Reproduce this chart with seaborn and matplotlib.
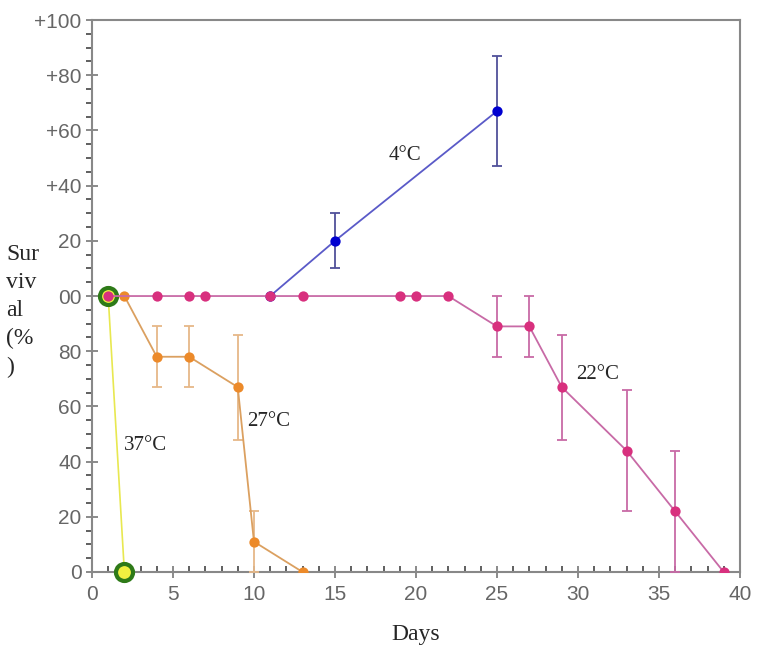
import numpy as np
import pandas as pd
import matplotlib
matplotlib.use("Agg")
import matplotlib.pyplot as plt
from matplotlib.ticker import MultipleLocator
import seaborn as sns

# survival data
days_4 = [11, 15, 25]
surv_4 = [100, 120, 167]
err_4 = [0, 10, 20]

days_22 = [1, 4, 6, 7, 11, 13, 19, 20, 22, 25, 27, 29, 33, 36, 39]
surv_22 = [100, 100, 100, 100, 100, 100, 100, 100, 100, 89, 89, 67, 44, 22, 0]
err_22 = [0, 0, 0, 0, 0, 0, 0, 0, 0, 11, 11, 19, 22, 22, 0]

days_27 = [1, 2, 4, 6, 9, 10, 13]
surv_27 = [100, 100, 78, 78, 67, 11, 0]
err_27 = [0, 0, 11, 11, 19, 11, 0]

days_37 = [1, 2]
surv_37 = [100, 0]

ytick_vals = [0, 20, 40, 60, 80, 100, 120, 140, 160, 180, 200]
ytick_labels = ["0", "20", "40", "60", "80", "00", "20", "+40", "+60", "+80", "+100"]
xtick_vals = [0, 5, 10, 15, 20, 25, 30, 35, 40]

sns.set_style("white")
plt.rcParams["font.family"] = ["Liberation Sans", "DejaVu Sans"]

fig, ax = plt.subplots(figsize=(7.62, 6.48), dpi=100)
fig.subplots_adjust(left=0.1207, right=0.971, bottom=0.1173, top=0.969)

def draw(days, surv, err, line_c, mark_c, bar_c, z):
    df = pd.DataFrame({"day": days, "surv": surv})
    if err is not None:
        e = np.array(err, dtype=float)
        lo = np.minimum(e, np.array(surv, dtype=float))
        mask = e > 0
        ax.errorbar(np.array(days)[mask], np.array(surv)[mask],
                    yerr=[lo[mask], e[mask]], fmt="none", ecolor=bar_c,
                    elinewidth=1.3, capsize=3.5, capthick=1.3, zorder=z)
    sns.lineplot(data=df, x="day", y="surv", ax=ax, color=line_c,
                 linewidth=1.3, zorder=z + 0.1, legend=False)
    ax.scatter(days, surv, s=55, color=mark_c, zorder=z + 0.2, linewidths=0)

draw(days_4, surv_4, err_4, "#5a5ac8", "#0000d0", "#50509a", 3)
draw(days_27, surv_27, err_27, "#dba060", "#ec8a2a", "#e6b888", 4)

# 37C: yellow line, green-ringed markers
df37 = pd.DataFrame({"day": days_37, "surv": surv_37})
sns.lineplot(data=df37, x="day", y="surv", ax=ax, color="#e8e850",
             linewidth=1.2, zorder=5, legend=False)
ax.scatter(days_37, surv_37, s=150, color="#f0f040", edgecolors="#2e7a18",
           linewidths=3, zorder=5.2, clip_on=False)

draw(days_22, surv_22, err_22, "#c86aa6", "#d8307e", "#c86aa6", 6)

ax.set_xlim(0, 40)
ax.set_ylim(0, 200)
ax.set_xticks(xtick_vals)
ax.set_yticks(ytick_vals)
ax.set_yticklabels(ytick_labels)
ax.xaxis.set_minor_locator(MultipleLocator(1))
ax.yaxis.set_minor_locator(MultipleLocator(5))
ax.tick_params(axis="both", which="both", bottom=True, left=True,
               top=False, right=False)
ax.tick_params(axis="both", which="major", direction="inout", length=9,
               width=1.2, color="#777777", labelcolor="#666666", labelsize=15,
               pad=3)
ax.tick_params(axis="x", which="major", pad=5)
ax.tick_params(axis="x", which="minor", direction="in", length=4,
               width=1.2, color="#444444")
ax.tick_params(axis="y", which="minor", direction="out", length=4,
               width=1.2, color="#444444")
for s in ax.spines.values():
    s.set_color("#888888")
    s.set_linewidth(1.5)

ax.set_xlabel("Days", family="Liberation Serif", fontsize=17, labelpad=14)
ax.set_ylabel("")
fig.text(0.008, 0.624, "Sur\nviv\nal\n(%\n)", family="Liberation Serif",
         fontsize=17, va="top", ha="left", linespacing=1.45)

serif = dict(family="Liberation Serif", fontsize=15, ha="center", va="center")
ax.text(19.3, 151, "4°C", **serif)
ax.text(31.2, 71.5, "22°C", **serif)
ax.text(10.9, 54.5, "27°C", **serif)
ax.text(3.3, 46, "37°C", **serif)

plt.savefig("out.png", dpi=100)
